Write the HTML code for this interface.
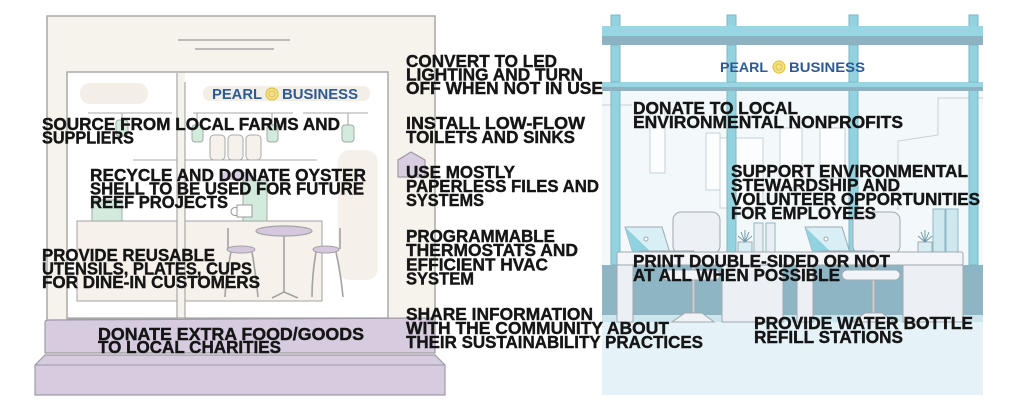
<!DOCTYPE html>
<html><head><meta charset="utf-8"><style>
html,body{margin:0;padding:0;background:#fff;}
svg{display:block}
.t{font-family:"Liberation Sans",Arial,sans-serif;font-weight:bold;font-size:17.2px;fill:#151515;stroke:#151515;stroke-width:0.4px;}
.lg{font-family:"Liberation Sans",Arial,sans-serif;font-weight:bold;fill:#2c5b94;}
</style></head><body>
<svg width="1024" height="410" viewBox="0 0 1024 410" xmlns="http://www.w3.org/2000/svg">
<rect width="1024" height="410" fill="#fff"/>

<!-- ===== LEFT BUILDING ===== -->
<rect x="47" y="16" width="388" height="306" fill="#f6f2ec" stroke="#a9a9a9" stroke-width="1.5"/>
<line x1="178" y1="40" x2="290" y2="40" stroke="#9a9a9a" stroke-width="1.2"/>
<line x1="195" y1="49" x2="274" y2="49" stroke="#9a9a9a" stroke-width="1.2"/>
<rect x="67" y="72" width="321" height="247" fill="#fff" stroke="#a9a9a9" stroke-width="1.5"/>

<!-- interior -->
<rect x="80" y="83" width="68" height="21" rx="10" fill="#f3eee6"/>
<rect x="203" y="86" width="167" height="15" rx="7" fill="#f3eee6"/>
<rect x="338" y="150" width="40" height="130" rx="12" fill="#f5f1ea"/>
<g stroke="#a9a9a9" stroke-width="1.1">
<line x1="88" y1="113" x2="172" y2="113"/>
<line x1="193" y1="113" x2="293" y2="113"/>
<line x1="303" y1="113" x2="368" y2="113"/>
<line x1="133" y1="160" x2="317" y2="160"/>
<line x1="197" y1="113" x2="197" y2="125"/>
<line x1="272" y1="113" x2="272" y2="125"/>
<line x1="348" y1="113" x2="348" y2="125"/>
<line x1="122" y1="113" x2="122" y2="120"/>
</g>
<g fill="#d3ebdc" stroke="#a0a8a4" stroke-width="1">
<rect x="192" y="125" width="11" height="17" rx="3"/>
<rect x="267" y="125" width="11" height="17" rx="3"/>
<rect x="342" y="125" width="12" height="17" rx="3"/>
<rect x="116" y="120" width="12" height="16" rx="3"/>
</g>
<g fill="#f6f1ea" stroke="#a9a9a9" stroke-width="1">
<rect x="210" y="135" width="15" height="25" rx="4"/>
<rect x="228" y="135" width="15" height="25" rx="4"/>
<rect x="246" y="135" width="15" height="25" rx="4"/>
</g>
<rect x="77" y="221" width="245" height="80" fill="#f6f1ea" stroke="#a9a9a9" stroke-width="1.1"/>
<rect x="92" y="200" width="30" height="21" fill="#d3ebdc" stroke="#a0a8a4"/>
<rect x="243" y="180" width="24" height="41" fill="#d3ebdc" stroke="#a0a8a4"/>
<rect x="222" y="172" width="30" height="8" rx="3" fill="#d8cde2"/>
<path d="M237 205 h15 v12 h-15 z M237 208 a4 4 0 1 0 0 7" fill="#fff" stroke="#999"/>

<!-- stools & table -->
<g stroke="#a3a3a3" stroke-width="1.6" fill="none">
<line x1="228" y1="228" x2="228" y2="249"/>
<line x1="340" y1="228" x2="340" y2="249"/>
<path d="M231 252 Q226 275 225 297"/>
<path d="M252 252 Q256 275 258 297"/>
<path d="M316 252 Q312 275 312 297"/>
<path d="M336 252 Q341 275 343 297"/>
<line x1="284" y1="235" x2="284" y2="292"/>
<path d="M272 298 L284 292 L298 298"/>
</g>
<ellipse cx="284" cy="231" rx="28" ry="5" fill="#d5c8de" stroke="#a3a3a3" stroke-width="1.2"/>
<ellipse cx="241" cy="249.5" rx="14" ry="3.5" fill="#d5c8de" stroke="#a3a3a3"/>
<ellipse cx="326" cy="249.5" rx="13" ry="3.5" fill="#d5c8de" stroke="#a3a3a3"/>

<!-- mullion -->
<rect x="177" y="73" width="8" height="246" fill="#f6f2ec"/>
<line x1="177" y1="73" x2="177" y2="319" stroke="#a9a9a9" stroke-width="1.2"/>
<line x1="185" y1="82" x2="185" y2="319" stroke="#a9a9a9" stroke-width="1.2"/>
<line x1="67" y1="318" x2="388" y2="318" stroke="#a9a9a9" stroke-width="1.2"/>

<!-- logo left -->
<text class="lg" x="212" y="99" font-size="14.5" textLength="50" lengthAdjust="spacingAndGlyphs">PEARL</text>
<circle cx="272" cy="94" r="6" fill="#f1e08e" stroke="#e0c545" stroke-width="1.2"/>
<circle cx="272" cy="94" r="3" fill="none" stroke="#e0c545" stroke-width="1"/>
<text class="lg" x="282" y="99" font-size="14.5" textLength="76" lengthAdjust="spacingAndGlyphs">BUSINESS</text>

<!-- house icon -->
<polygon points="398,177 398,160 411,152 425,160 425,177" fill="#d9cde2" stroke="#a09aa8" stroke-width="1.2"/>

<!-- steps -->
<path d="M45 322 Q45 320 50 320 L435 318 L435 353 L45 353 Z" fill="#d6cbdf" stroke="#9f9aa3" stroke-width="1.2"/>
<path d="M35 365 L45 355 L435 355 L445 365 L445 395 L35 395 Z" fill="#d6cbdf" stroke="#9f9aa3" stroke-width="1.2"/>
<line x1="35" y1="365" x2="445" y2="365" stroke="#9f9aa3" stroke-width="1.1"/>

<!-- ===== RIGHT OFFICE ===== -->
<rect x="602" y="91" width="381" height="174" fill="#f3f9fb"/>
<g fill="#fbfdfe" stroke="#c7d1d5" stroke-width="1">
<rect x="650" y="105" width="15" height="68"/>
<rect x="706" y="133" width="14" height="57"/>
<rect x="720" y="138" width="43" height="70"/>
<rect x="780" y="128" width="22" height="60"/>
<rect x="820" y="128" width="25" height="50"/>
<polyline points="898,210 898,141 938,135 938,98 983,98" fill="none"/>
<line x1="602" y1="105" x2="632" y2="105"/>
</g>
<rect x="602" y="265" width="381" height="50" fill="#8eb5c4"/>
<rect x="602" y="315" width="381" height="7" fill="#cde6ee"/>
<rect x="602" y="322" width="381" height="73" fill="#e5f3f8"/>

<!-- columns -->
<g fill="#93d3df" stroke="#7fb6c5" stroke-width="1">
<rect x="611" y="15" width="9" height="250"/>
<rect x="727" y="15" width="9" height="250"/>
<rect x="849" y="15" width="9" height="250"/>
<rect x="969" y="15" width="9" height="250"/>
</g>
<rect x="602" y="26" width="381" height="10" fill="#97d7e3"/>
<rect x="602" y="36" width="381" height="9" fill="#8db2c1"/>
<rect x="602" y="45" width="381" height="37" fill="#fff"/>
<rect x="602" y="82" width="381" height="5" fill="#97d7e3"/>
<rect x="602" y="87" width="381" height="4" fill="#8db2c1"/>
<g fill="#93d3df" stroke="#7fb6c5" stroke-width="1">
<rect x="611" y="45" width="9" height="37"/>
<rect x="727" y="45" width="9" height="37"/>
<rect x="849" y="45" width="9" height="37"/>
<rect x="969" y="45" width="9" height="37"/>
</g>

<!-- logo right -->
<text class="lg" x="720" y="72" font-size="14" textLength="48" lengthAdjust="spacingAndGlyphs">PEARL</text>
<circle cx="779" cy="67" r="6" fill="#f1e08e" stroke="#e0c545" stroke-width="1.2"/>
<circle cx="779" cy="67" r="3" fill="none" stroke="#e0c545" stroke-width="1"/>
<text class="lg" x="789" y="72" font-size="14" textLength="76" lengthAdjust="spacingAndGlyphs">BUSINESS</text>

<!-- desks -->
<g stroke="#9fa9b0" stroke-width="1">
<!-- desk 1 -->
<rect x="673" y="212" width="47" height="42" rx="8" fill="#edf0f4"/>
<polygon points="625,227 662,227 670,253 633,253" fill="#d8eff5"/>
<polygon points="625,227 652,253 633,253" fill="#8fd3e0" stroke="none"/>
<circle cx="646" cy="239" r="2" fill="#fff"/>
<rect x="640" y="251" width="54" height="3" fill="#e8ecef"/>
<rect x="738" y="242" width="14" height="10" fill="#d8eef3"/>
<path d="M745 242 l-4 -10 M745 242 l0 -12 M745 242 l4 -10 M745 242 l-7 -6 M745 242 l7 -6" stroke="#6f9aa8" fill="none"/>
<rect x="754" y="223" width="9" height="30" fill="#e9eef2" stroke="#8fb8c6"/>
<rect x="766" y="223" width="9" height="30" fill="#e9eef2" stroke="#8fb8c6"/>
<!-- desk 2 -->
<rect x="853" y="212" width="47" height="42" rx="8" fill="#edf0f4"/>
<polygon points="805,227 842,227 850,253 813,253" fill="#d8eff5"/>
<polygon points="805,227 832,253 813,253" fill="#8fd3e0" stroke="none"/>
<circle cx="826" cy="239" r="2" fill="#fff"/>
<rect x="820" y="251" width="54" height="3" fill="#e8ecef"/>
<rect x="918" y="242" width="14" height="10" fill="#d8eef3"/>
<path d="M925 242 l-4 -10 M925 242 l0 -12 M925 242 l4 -10 M925 242 l-7 -6 M925 242 l7 -6" stroke="#6f9aa8" fill="none"/>
<rect x="933" y="209" width="12" height="44" fill="#cfe7ee" stroke="#8fb8c6"/>
<rect x="946" y="209" width="12" height="44" fill="#cfe7ee" stroke="#8fb8c6"/>
<!-- desktop -->
<rect x="617" y="252" width="346" height="13" rx="2" fill="#f4f5f8"/>
<rect x="617" y="265" width="16" height="57" fill="#eceff3"/>
<rect x="722" y="265" width="61" height="57" fill="#eceff3"/>
<rect x="797" y="265" width="16" height="57" fill="#eceff3"/>
<rect x="903" y="265" width="60" height="57" fill="#eceff3"/>
<rect x="692" y="265" width="3" height="48" fill="#c9d0d6"/>
<rect x="872" y="265" width="3" height="48" fill="#c9d0d6"/>
<polygon points="672,322 714,322 702,313 685,313" fill="#f0f2f5"/>
<polygon points="852,322 894,322 882,313 865,313" fill="#f0f2f5"/>
<rect x="662" y="270" width="58" height="10" rx="5" fill="#f2f4f7"/>
<rect x="842" y="270" width="58" height="10" rx="5" fill="#f2f4f7"/>
</g>

<!-- ===== TEXT ===== -->
<g class="t">
<text x="42" y="130" textLength="298" lengthAdjust="spacingAndGlyphs">SOURCE FROM LOCAL FARMS AND</text>
<text x="42" y="143.5" textLength="92" lengthAdjust="spacingAndGlyphs">SUPPLIERS</text>
<text x="90" y="181" textLength="276" lengthAdjust="spacingAndGlyphs">RECYCLE AND DONATE OYSTER</text>
<text x="90" y="194.5" textLength="274" lengthAdjust="spacingAndGlyphs">SHELL TO BE USED FOR FUTURE</text>
<text x="90" y="208" textLength="138" lengthAdjust="spacingAndGlyphs">REEF PROJECTS</text>
<text x="42" y="261" textLength="173" lengthAdjust="spacingAndGlyphs">PROVIDE REUSABLE</text>
<text x="42" y="274.5" textLength="210" lengthAdjust="spacingAndGlyphs">UTENSILS, PLATES, CUPS</text>
<text x="42" y="288" textLength="218" lengthAdjust="spacingAndGlyphs">FOR DINE-IN CUSTOMERS</text>
<text x="98" y="340" textLength="266" lengthAdjust="spacingAndGlyphs">DONATE EXTRA FOOD/GOODS</text>
<text x="98" y="353" textLength="183" lengthAdjust="spacingAndGlyphs">TO LOCAL CHARITIES</text>

<text x="406" y="67" textLength="151" lengthAdjust="spacingAndGlyphs">CONVERT TO LED</text>
<text x="406" y="80.5" textLength="177" lengthAdjust="spacingAndGlyphs">LIGHTING AND TURN</text>
<text x="406" y="94" textLength="197" lengthAdjust="spacingAndGlyphs">OFF WHEN NOT IN USE</text>
<text x="406" y="129" textLength="179" lengthAdjust="spacingAndGlyphs">INSTALL LOW-FLOW</text>
<text x="406" y="143" textLength="169" lengthAdjust="spacingAndGlyphs">TOILETS AND SINKS</text>
<text x="406" y="178" textLength="109" lengthAdjust="spacingAndGlyphs">USE MOSTLY</text>
<text x="406" y="192" textLength="193" lengthAdjust="spacingAndGlyphs">PAPERLESS FILES AND</text>
<text x="406" y="206" textLength="78" lengthAdjust="spacingAndGlyphs">SYSTEMS</text>
<text x="406" y="242" textLength="149" lengthAdjust="spacingAndGlyphs">PROGRAMMABLE</text>
<text x="406" y="256" textLength="172" lengthAdjust="spacingAndGlyphs">THERMOSTATS AND</text>
<text x="406" y="270.5" textLength="142" lengthAdjust="spacingAndGlyphs">EFFICIENT HVAC</text>
<text x="406" y="284.5" textLength="68" lengthAdjust="spacingAndGlyphs">SYSTEM</text>
<text x="406" y="320" textLength="187" lengthAdjust="spacingAndGlyphs">SHARE INFORMATION</text>
<text x="406" y="334" textLength="263" lengthAdjust="spacingAndGlyphs">WITH THE COMMUNITY ABOUT</text>
<text x="406" y="348" textLength="297" lengthAdjust="spacingAndGlyphs">THEIR SUSTAINABILITY PRACTICES</text>

<text x="633" y="114" textLength="165" lengthAdjust="spacingAndGlyphs">DONATE TO LOCAL</text>
<text x="633" y="128" textLength="270" lengthAdjust="spacingAndGlyphs">ENVIRONMENTAL NONPROFITS</text>
<text x="731" y="177" textLength="237" lengthAdjust="spacingAndGlyphs">SUPPORT ENVIRONMENTAL</text>
<text x="731" y="191" textLength="169" lengthAdjust="spacingAndGlyphs">STEWARDSHIP AND</text>
<text x="731" y="205" textLength="249" lengthAdjust="spacingAndGlyphs">VOLUNTEER OPPORTUNITIES</text>
<text x="731" y="219" textLength="145" lengthAdjust="spacingAndGlyphs">FOR EMPLOYEES</text>
<text x="633" y="267" textLength="257" lengthAdjust="spacingAndGlyphs">PRINT DOUBLE-SIDED OR NOT</text>
<text x="633" y="281" textLength="207" lengthAdjust="spacingAndGlyphs">AT ALL WHEN POSSIBLE</text>
<text x="754" y="329" textLength="219" lengthAdjust="spacingAndGlyphs">PROVIDE WATER BOTTLE</text>
<text x="754" y="343" textLength="149" lengthAdjust="spacingAndGlyphs">REFILL STATIONS</text>
</g>
</svg>
</body></html>
